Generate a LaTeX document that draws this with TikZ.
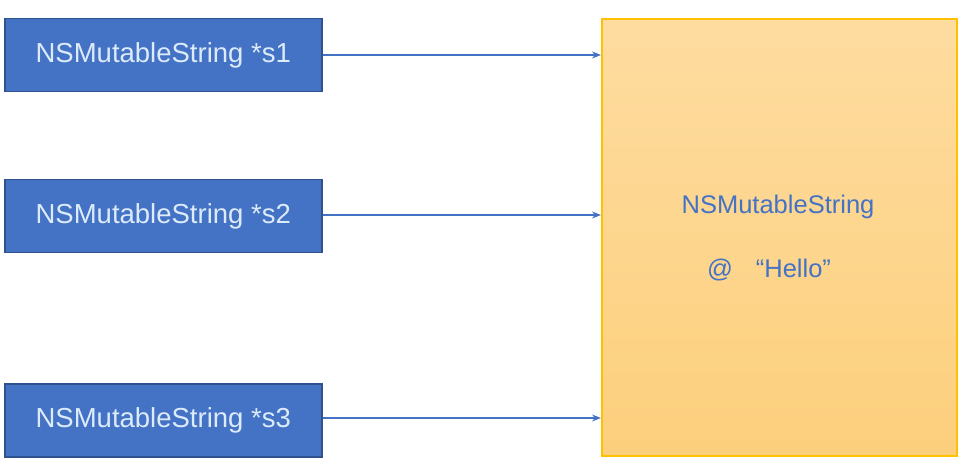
\documentclass[tikz,border=0pt]{standalone}
\usepackage{fontspec}
\setmainfont{Liberation Sans}
\usetikzlibrary{arrows.meta}
\definecolor{boxblue}{HTML}{4472C4}
\definecolor{boxborder}{HTML}{2F528F}
\definecolor{lighttext}{HTML}{DCEBFA}
\definecolor{goldtop}{HTML}{FEDCA0}
\definecolor{goldbot}{HTML}{FCCF7C}
\definecolor{goldborder}{HTML}{FFC000}
\begin{document}
\begin{tikzpicture}[x=1pt,y=-1pt,
  ptrbox/.style={draw=boxborder,line width=1.5pt,fill=boxblue,minimum width=317pt,minimum height=73pt,inner sep=0pt,anchor=north west,
    font=\fontsize{27.5}{32}\selectfont,text=lighttext},
  conn/.style={draw=boxblue,line width=1.3pt,-{Stealth[length=9pt,width=7pt]}}]
\useasboundingbox (0,0) rectangle (972,470);
\node[ptrbox] (p1) at (4,18) {NSMutableString *s1};
\node[ptrbox] (p2) at (4,179) {NSMutableString *s2};
\node[ptrbox] (p3) at (4,383) {NSMutableString *s3};
\node[draw=goldborder,line width=2pt,top color=goldtop,bottom color=goldbot,minimum width=355pt,minimum height=437pt,anchor=north west,inner sep=0pt] (obj) at (601,18) {};
\node[text=boxblue,font=\fontsize{25.5}{30}\selectfont] (t1) at (778,207) {NSMutableString};
\node[text=boxblue,font=\fontsize{25.5}{30}\selectfont] (t2) at (769,270) {@\hspace{0.9em}“Hello”};
\coordinate (a1) at (601,55);
\coordinate (a2) at (601,215);
\coordinate (a3) at (601,418);
\draw[conn] (p1.east |- a1) -- (a1);
\draw[conn] (p2.east |- a2) -- (a2);
\draw[conn] (p3.east |- a3) -- (a3);
\end{tikzpicture}
\end{document}
